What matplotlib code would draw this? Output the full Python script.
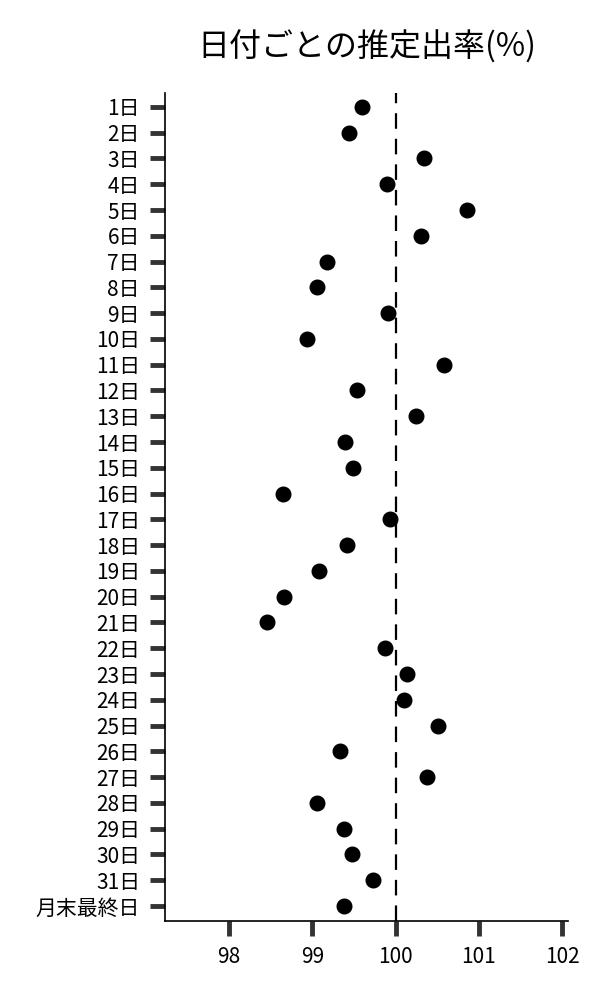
import numpy as np
import matplotlib
matplotlib.use('Agg')
import matplotlib.pyplot as plt

plt.rcParams['font.family'] = ['Noto Sans CJK JP', 'DejaVu Sans']

# 日付ラベルと推定出率
days = [f'{d}日' for d in range(1, 32)] + ['月末最終日']
rates = [99.60, 99.44, 100.34, 99.90, 100.86, 100.31, 99.18, 99.05, 99.91, 98.94,
         100.58, 99.53, 100.25, 99.39, 99.49, 98.65, 99.93, 99.41, 99.08, 98.66,
         98.45, 99.87, 100.14, 100.10, 100.51, 99.33, 100.38, 99.05, 99.38, 99.48,
         99.73, 99.38]
ref_line = 100
xticks = [98, 99, 100, 101, 102]

fig = plt.figure(figsize=(6, 10), dpi=100)
ax = fig.add_axes([0.275, 0.079, 0.6717, 0.828])

y = np.arange(len(days))
ax.plot(rates, y, 'o', color='black', markersize=10.5)
ax.axvline(ref_line, color='black', linewidth=1.6, ls='dashed', dashes=(7, 4.5))

ax.set_yticks(y)
ax.set_yticklabels(days, fontsize=15)
ax.set_ylim(len(days) - 1 + 0.58, -0.54)

ax.set_xticks(xticks)
ax.set_xticklabels([str(t) for t in xticks], fontsize=15)
ax.set_xlim(97.23, 102.07)

ax.tick_params(axis='both', length=11, width=3.5, color='#333333', pad=7)

for side in ['top', 'right']:
    ax.spines[side].set_visible(False)
for side in ['left', 'bottom']:
    ax.spines[side].set_linewidth(1.2)

ax.set_title('日付ごとの推定出率(%)', fontsize=23, pad=26)

fig.savefig('out.png', dpi=100)
